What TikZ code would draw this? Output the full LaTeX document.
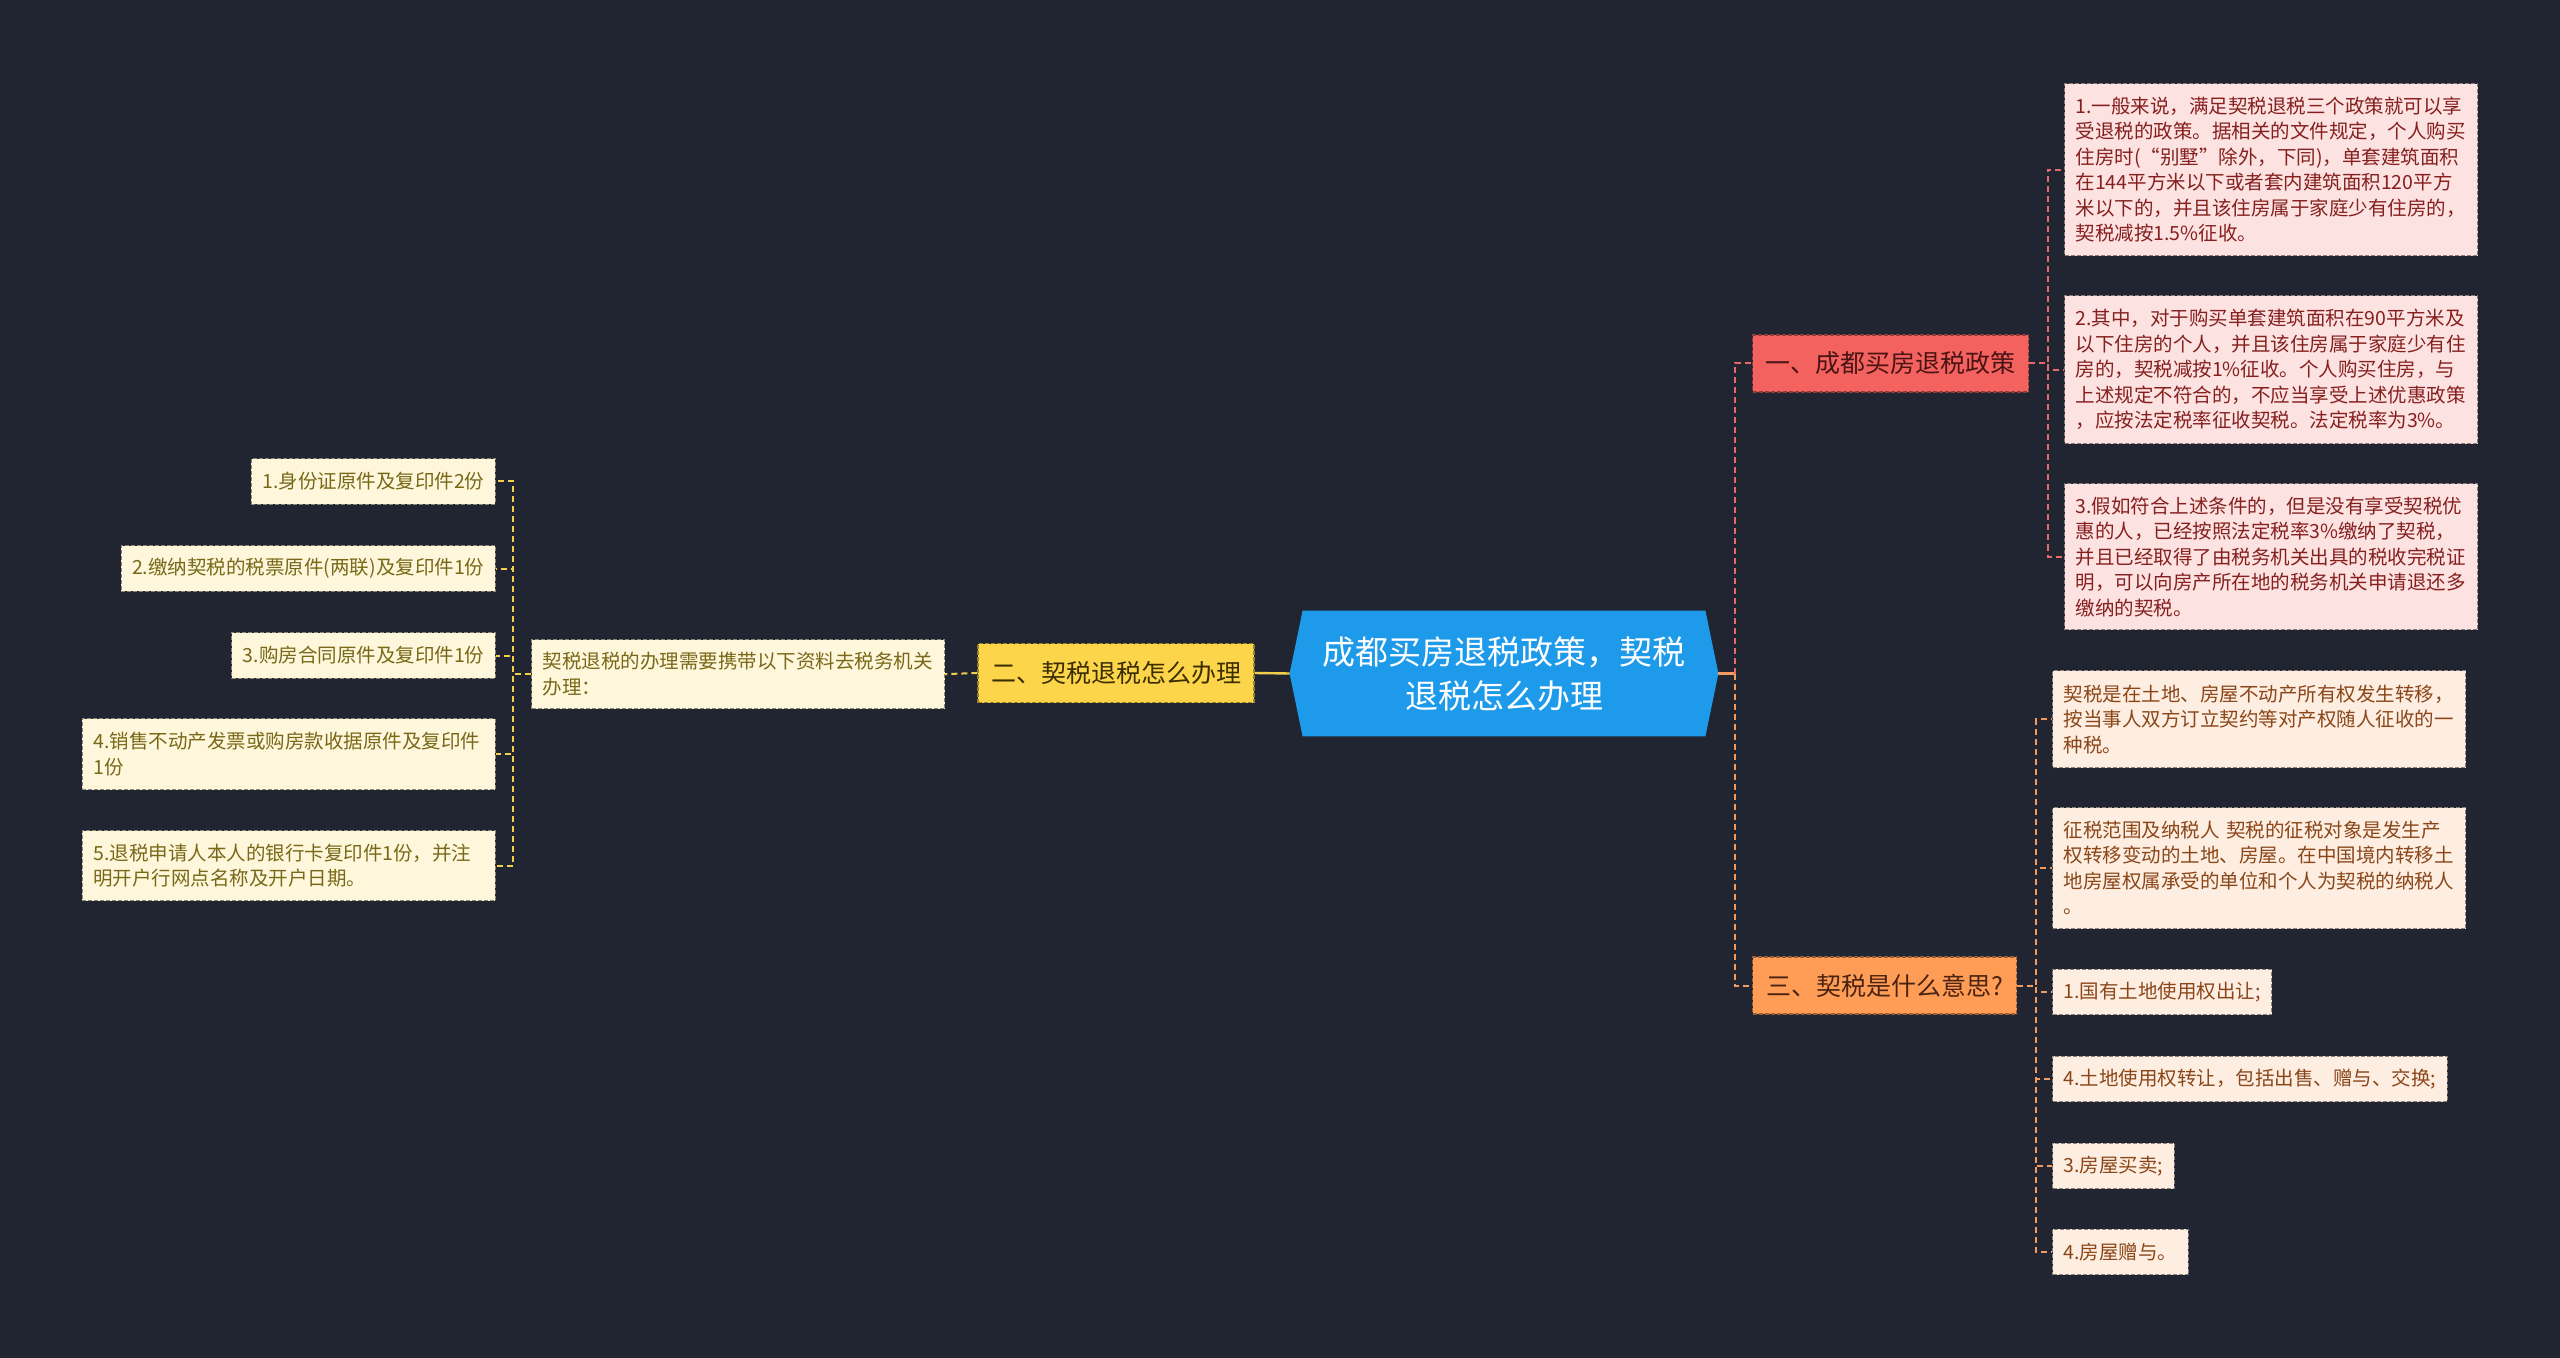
\documentclass[tikz,border=0pt]{standalone}
\usepackage{fontspec}
\setmainfont{Noto Sans CJK SC}
\pgfdeclarelayer{back}
\pgfdeclarelayer{bg}
\pgfsetlayers{back,bg,main}
\definecolor{bgc}{HTML}{212532}
\definecolor{centralc}{HTML}{1E9AEB}
\definecolor{rbfill}{HTML}{F4625F}
\definecolor{ybfill}{HTML}{FDD54A}
\definecolor{obfill}{HTML}{FF9D57}
\definecolor{rbtext}{HTML}{4A1414}
\definecolor{ybtext}{HTML}{3A2E00}
\definecolor{obtext}{HTML}{4A2410}
\definecolor{rlfill}{HTML}{FDE2E2}
\definecolor{olfill}{HTML}{FEEDE1}
\definecolor{ylfill}{HTML}{FEF7DB}
\definecolor{rltext}{HTML}{85201E}
\definecolor{oltext}{HTML}{8A4618}
\definecolor{yltext}{HTML}{786818}
\definecolor{rline}{HTML}{E86A68}
\definecolor{oline}{HTML}{F39B5E}
\definecolor{yline}{HTML}{F2CF4A}
\tikzset{
  leaf/.style={draw, dash pattern=on 2pt off 1pt, line width=0.6pt,
    font=\fontsize{9.75}{12.75}\selectfont, inner xsep=5.5pt, inner ysep=2pt, align=left},
  rleaf/.style={leaf, fill=rlfill, draw=rlfill!55!black, text=rltext},
  oleaf/.style={leaf, fill=olfill, draw=olfill!55!black, text=oltext},
  yleaf/.style={leaf, fill=ylfill, draw=ylfill!55!black, text=yltext},
  multi/.style={text width=195.5pt},
  single/.style={minimum height=22.75pt},
  branch/.style={draw, dash pattern=on 2pt off 1pt, line width=0.6pt,
    font=\fontsize{12.5}{15}\selectfont, inner sep=0pt, minimum height=28.5pt},
  conn/.style={dash pattern=on 3pt off 2pt, line width=1pt},
  rconn/.style={conn, draw=rline},
  oconn/.style={conn, draw=oline},
  yconn/.style={conn, draw=yline},
}
\begin{document}
\begin{tikzpicture}[x={(0.5pt,0)}, y={(0,-0.5pt)}]
\begin{pgfonlayer}{back}
\fill[bgc] (0,0) rectangle (2560,1358);
\end{pgfonlayer}
\useasboundingbox (0,0) rectangle (2560,1358);

% central
\node[minimum width=214pt, minimum height=62.5pt, inner sep=0pt, align=center,
  font=\fontsize{16.5}{22}\selectfont, text=white] (c) at (1504,673.5)
  {成都买房退税政策，契税\\退税怎么办理};
\begin{pgfonlayer}{bg}
\fill[centralc] (c.west) -- ([xshift=6.5pt]c.north west) -- ([xshift=-6.5pt]c.north east)
  -- (c.east) -- ([xshift=-6.5pt]c.south east) -- ([xshift=6.5pt]c.south west) -- cycle;
\end{pgfonlayer}

% branches
\node[branch, fill=rbfill, draw=rbfill!60!black, text=rbtext, minimum width=138pt, anchor=west] (rb) at (1752,363.5) {一、成都买房退税政策};
\node[branch, fill=ybfill, draw=ybfill!60!black, text=ybtext, minimum width=138pt, minimum height=29.5pt] (yb) at (1116,673) {二、契税退税怎么办理};
\node[branch, fill=obfill, draw=obfill!60!black, text=obtext, minimum width=132pt, anchor=west] (ob) at (1752,985.5) {三、契税是什么意思?};

% red leaves
\node[rleaf, multi, anchor=north west, minimum height=86pt] (r1) at (2064,83)
{1.一般来说，满足契税退税三个政策就可以享\\受退税的政策。据相关的文件规定，个人购买\\住房时(“别墅”除外，下同)，单套建筑面积\\在144平方米以下或者套内建筑面积120平方\\米以下的，并且该住房属于家庭少有住房的，\\契税减按1.5\%征收。};
\node[rleaf, multi, anchor=north west, minimum height=74pt] (r2) at (2064,295)
{2.其中，对于购买单套建筑面积在90平方米及\\以下住房的个人，并且该住房属于家庭少有住\\房的，契税减按1\%征收。个人购买住房，与\\上述规定不符合的，不应当享受上述优惠政策\\，应按法定税率征收契税。法定税率为3\%。};
\node[rleaf, multi, anchor=north west, minimum height=73pt] (r3) at (2064,483)
{3.假如符合上述条件的，但是没有享受契税优\\惠的人，已经按照法定税率3\%缴纳了契税，\\并且已经取得了由税务机关出具的税收完税证\\明，可以向房产所在地的税务机关申请退还多\\缴纳的契税。};

% orange leaves
\node[oleaf, multi, anchor=north west, minimum height=48.5pt] (o1) at (2052,670)
{契税是在土地、房屋不动产所有权发生转移，\\按当事人双方订立契约等对产权随人征收的一\\种税。};
\node[oleaf, multi, anchor=north west, minimum height=60.5pt] (o2) at (2052,807)
{征税范围及纳税人 契税的征税对象是发生产\\权转移变动的土地、房屋。在中国境内转移土\\地房屋权属承受的单位和个人为契税的纳税人\\。};
\node[oleaf, single, anchor=west] (o3) at (2052,992) {1.国有土地使用权出让;};
\node[oleaf, single, anchor=west] (o4) at (2052,1079) {4.土地使用权转让，包括出售、赠与、交换;};
\node[oleaf, single, anchor=west] (o5) at (2052,1166) {3.房屋买卖;};
\node[oleaf, single, anchor=west] (o6) at (2052,1252) {4.房屋赠与。};

% yellow side
\node[yleaf, multi, anchor=north west, minimum height=34.5pt] (y0) at (531,639)
{契税退税的办理需要携带以下资料去税务机关\\办理：};
\node[yleaf, single, anchor=east] (l1) at (496,481.5) {1.身份证原件及复印件2份};
\node[yleaf, single, anchor=east] (l2) at (496,568.5) {2.缴纳契税的税票原件(两联)及复印件1份};
\node[yleaf, single, anchor=east] (l3) at (496,655.5) {3.购房合同原件及复印件1份};
\node[yleaf, multi, anchor=north east, minimum height=35.5pt] (l4) at (496,718)
{4.销售不动产发票或购房款收据原件及复印件\\1份};
\node[yleaf, multi, anchor=north east, minimum height=35pt] (l5) at (496,830)
{5.退税申请人本人的银行卡复印件1份，并注\\明开户行网点名称及开户日期。};

% connectors
\coordinate (cj) at ([xshift=8.5pt]c.east);
\draw[oline, line width=1.2pt] (c.east) -- (cj);
\draw[rconn] (cj) |- (rb.west);
\draw[oconn] (cj) |- (ob.west);
\draw[yline, line width=1.2pt] (c.west) -- (yb.east);
\draw[yconn] (yb.west) -- (y0.east);
\foreach \n in {r1,r2,r3} \draw[rconn] (rb.east) -- ++(19,0) |- (\n.west);
\foreach \n in {o1,o2,o3,o4,o5,o6} \draw[oconn] (ob.east) -- ++(19,0) |- (\n.west);
\foreach \n in {l1,l2,l3,l4,l5} \draw[yconn] (y0.west) -- ++(-18,0) |- (\n.east);
\end{tikzpicture}
\end{document}
